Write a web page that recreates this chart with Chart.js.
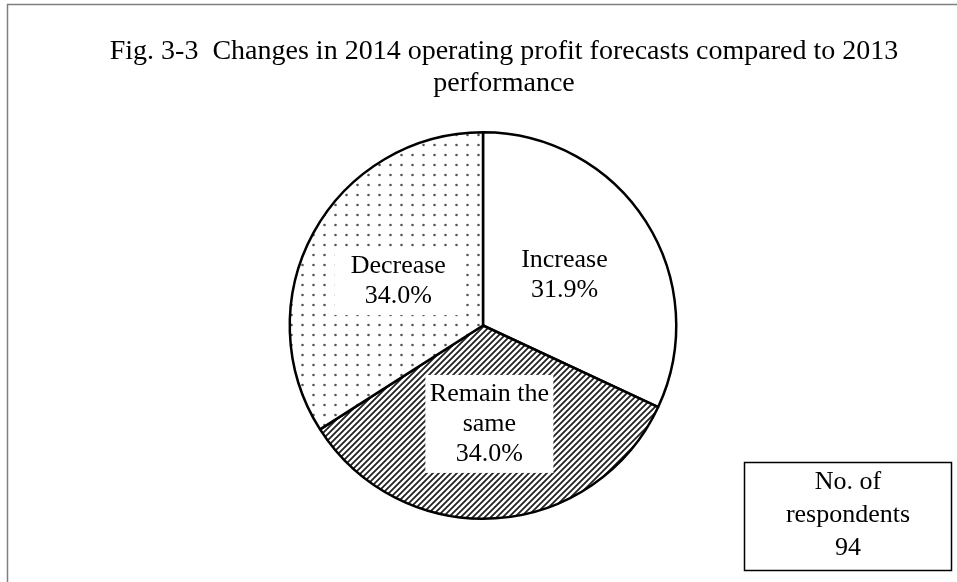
<!DOCTYPE html>
<html>
<head>
<meta charset="utf-8">
<title>Fig. 3-3</title>
<script src="https://cdn.jsdelivr.net/npm/chart.js@4.4.1/dist/chart.umd.min.js"></script>
<style>
  html, body { margin: 0; padding: 0; background: #fff; }
  canvas { display: block; }
</style>
</head>
<body>
<canvas id="pie" width="957" height="582"></canvas>
<script>
// chart data
const categories = ['Increase', 'Remain the same', 'Decrease'];
const categoryLines = [['Increase'], ['Remain the', 'same'], ['Decrease']];
const shares = [31.9, 34.0, 34.0];
const titleLines = ['Fig. 3-3  Changes in 2014 operating profit forecasts compared to 2013', 'performance'];
const noteLines = ['No. of', 'respondents', '94'];

const FONT = '"Liberation Serif", "Times New Roman", serif';

// fill patterns for the slices
const makePattern = (w, h, draw) => {
  const c = document.createElement('canvas');
  c.width = w;
  c.height = h;
  const g = c.getContext('2d');
  g.fillStyle = '#fff';
  g.fillRect(0, 0, w, h);
  draw(g);
  return g.createPattern(c, 'repeat');
};

const hatch = makePattern(6, 6, (g) => {
  g.strokeStyle = '#222';
  g.lineWidth = 1.8;
  g.beginPath();
  g.moveTo(-1, 7); g.lineTo(7, -1);
  g.moveTo(-4, 4); g.lineTo(4, -4);
  g.moveTo(2, 10); g.lineTo(10, 2);
  g.stroke();
});

const dots = makePattern(11, 10, (g) => {
  g.fillStyle = '#555';
  g.beginPath();
  g.arc(5.5, 5, 1.3, 0, Math.PI * 2);
  g.fill();
});

// frame, title, slice labels and the respondents box
const decorations = {
  id: 'decorations',
  beforeDraw(chart) {
    const ctx = chart.ctx;
    ctx.save();
    ctx.strokeStyle = '#7f7f7f';
    ctx.lineWidth = 1.5;
    ctx.strokeRect(7.5, 4.5, 980, 600);
    ctx.restore();
  },
  afterDraw(chart) {
    const ctx = chart.ctx;
    ctx.save();
    ctx.fillStyle = '#000';
    ctx.textAlign = 'center';
    ctx.textBaseline = 'middle';

    ctx.font = '28px ' + FONT;
    ctx.fillText(titleLines[0], 504, 52);
    ctx.fillText(titleLines[1], 504, 84);

    // labels sit on each arc's middle point
    ctx.font = '26px ' + FONT;
    const lineH = 30;
    chart.getDatasetMeta(0).data.forEach((arc, i) => {
      const pos = arc.tooltipPosition();
      const lines = categoryLines[i].concat([shares[i].toFixed(1) + '%']);
      const widest = Math.max(...lines.map((t) => ctx.measureText(t).width));
      const boxW = Math.max(widest + 8, 128);
      const top = pos.y + 2 - (lines.length * lineH) / 2;
      ctx.fillStyle = '#fff';
      ctx.fillRect(pos.x - boxW / 2, top - 4, boxW, lines.length * lineH + 8);
      ctx.fillStyle = '#000';
      lines.forEach((t, j) => ctx.fillText(t, pos.x, top + lineH * (j + 0.5)));
    });

    // respondents note
    ctx.fillStyle = '#fff';
    ctx.fillRect(744, 462, 208, 109);
    ctx.strokeStyle = '#000';
    ctx.lineWidth = 1.5;
    ctx.strokeRect(744.5, 462.5, 207, 108);
    ctx.fillStyle = '#000';
    noteLines.forEach((t, j) => ctx.fillText(t, 848, 482 + j * 33));
    ctx.restore();
  }
};

new Chart(document.getElementById('pie'), {
  type: 'pie',
  data: {
    labels: categories,
    datasets: [{
      data: shares,
      backgroundColor: ['#ffffff', hatch, dots],
      borderColor: '#000',
      borderWidth: 2.5
    }]
  },
  options: {
    responsive: false,
    animation: false,
    layout: { padding: { top: 131, bottom: 62, left: 9, right: 0 } },
    plugins: {
      legend: { display: false },
      tooltip: { enabled: false },
      title: { display: false }
    }
  },
  plugins: [decorations]
});
</script>
</body>
</html>
